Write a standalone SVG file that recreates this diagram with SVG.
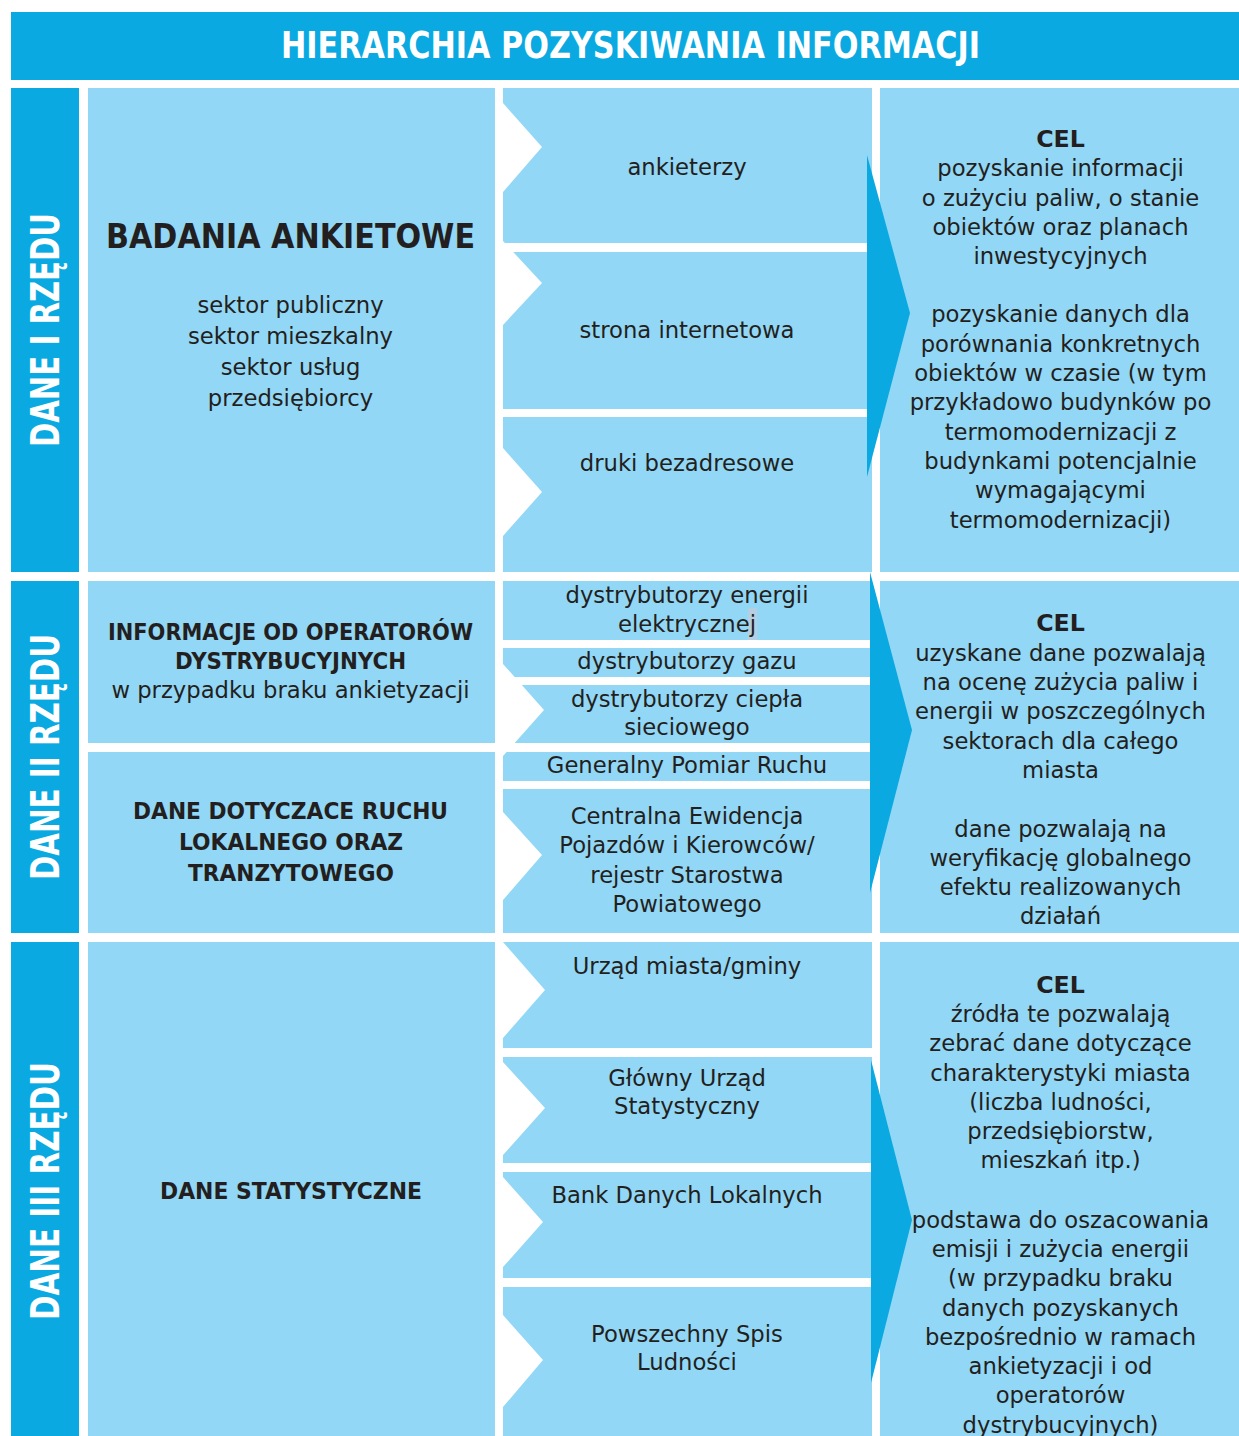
<svg xmlns="http://www.w3.org/2000/svg" width="1239" height="1436" viewBox="0 0 1239 1436">
<style>
.dark{fill:#0ba9e1}
.light{fill:#92d7f5}
.notch{fill:#ffffff}
.t{font-family:"DejaVu Sans",Verdana,sans-serif;font-size:22.7px;fill:#231f20;text-anchor:middle}
.b{font-family:"DejaVu Sans",Verdana,sans-serif;font-weight:bold;font-size:23.7px;fill:#231f20;text-anchor:middle}
.big{font-size:34.3px}
.vl{font-family:"DejaVu Sans",Verdana,sans-serif;font-weight:bold;font-size:38.4px;fill:#ffffff;text-anchor:middle}
</style>
<rect width="1239" height="1436" fill="#ffffff"/>

<g id="title">
<rect class="dark" x="11" y="12" width="1228" height="68"/>
<text x="630.5" y="58" font-family="DejaVu Sans, Verdana, sans-serif" font-weight="bold" font-size="36.5" fill="#ffffff" text-anchor="middle" textLength="699" lengthAdjust="spacingAndGlyphs">HIERARCHIA POZYSKIWANIA INFORMACJI</text>
</g>

<g id="row1-label">
<rect class="dark" x="11" y="88" width="68" height="484"/>
<text class="vl" transform="translate(59,330) rotate(-90)" x="0" y="0" textLength="234" lengthAdjust="spacingAndGlyphs">DANE I RZĘDU</text>
</g>
<g id="row2-label">
<rect class="dark" x="11" y="581" width="68" height="352"/>
<text class="vl" transform="translate(59,757) rotate(-90)" x="0" y="0" textLength="246" lengthAdjust="spacingAndGlyphs">DANE II RZĘDU</text>
</g>
<g id="row3-label">
<rect class="dark" x="11" y="942" width="68" height="494"/>
<text class="vl" transform="translate(59,1191) rotate(-90)" x="0" y="0" textLength="258" lengthAdjust="spacingAndGlyphs">DANE III RZĘDU</text>
</g>

<g id="badania">
<rect class="light" x="88" y="88" width="407" height="484"/>
<text class="b big" x="290.5" y="248" textLength="369" lengthAdjust="spacingAndGlyphs">BADANIA ANKIETOWE</text>
<text class="t" x="290.5" y="313">sektor publiczny</text>
<text class="t" x="290.5" y="344">sektor mieszkalny</text>
<text class="t" x="290.5" y="375">sektor usług</text>
<text class="t" x="290.5" y="406">przedsiębiorcy</text>
</g>

<g id="operatorzy">
<rect class="light" x="88" y="581" width="407" height="162"/>
<text class="b" x="290.5" y="640" textLength="365" lengthAdjust="spacingAndGlyphs">INFORMACJE OD OPERATORÓW</text>
<text class="b" x="290.5" y="669" textLength="231" lengthAdjust="spacingAndGlyphs">DYSTRYBUCYJNYCH</text>
<text class="t" x="290.5" y="698">w przypadku braku ankietyzacji</text>
</g>

<g id="ruch">
<rect class="light" x="88" y="752" width="407" height="181"/>
<text class="b" x="290.5" y="819" textLength="315" lengthAdjust="spacingAndGlyphs">DANE DOTYCZACE RUCHU</text>
<text class="b" x="291" y="850" textLength="224" lengthAdjust="spacingAndGlyphs">LOKALNEGO ORAZ</text>
<text class="b" x="291" y="881" textLength="206" lengthAdjust="spacingAndGlyphs">TRANZYTOWEGO</text>
</g>

<g id="statystyczne">
<rect class="light" x="88" y="942" width="407" height="494"/>
<text class="b" x="291" y="1199" textLength="262" lengthAdjust="spacingAndGlyphs">DANE STATYSTYCZNE</text>
</g>

<g id="ankieterzy">
<rect class="light" x="503" y="88" width="369" height="155"/>
<polygon class="notch" points="503,103 542,147 503,192"/>
<text class="t" x="687" y="175">ankieterzy</text>
</g>
<g id="strona">
<rect class="light" x="503" y="252" width="369" height="157"/>
<polygon class="notch" points="503,241 542,283 503,325"/>
<text class="t" x="687" y="338">strona internetowa</text>
</g>
<g id="druki">
<rect class="light" x="503" y="417" width="369" height="155"/>
<polygon class="notch" points="503,448 542,492 503,536"/>
<text class="t" x="687" y="471">druki bezadresowe</text>
</g>

<g id="energia">
<rect class="light" x="503" y="581" width="369" height="59"/>
<rect x="748" y="608" width="9" height="32" fill="#b4cfe2"/>
<text class="t" x="687" y="603">dystrybutorzy energii</text>
<text class="t" x="687" y="632">elektrycznej</text>
</g>
<g id="gaz">
<rect class="light" x="503" y="648" width="369" height="29"/>
<text class="t" x="687" y="669">dystrybutorzy gazu</text>
</g>
<g id="cieplo">
<rect class="light" x="503" y="685" width="369" height="58"/>
<text class="t" x="687" y="707">dystrybutorzy ciepła</text>
<text class="t" x="687" y="735">sieciowego</text>
</g>
<g id="gpr">
<rect class="light" x="503" y="752" width="369" height="29"/>
<text class="t" x="687" y="773">Generalny Pomiar Ruchu</text>
</g>
<polygon class="notch" points="503,664 544,710 503,756"/>
<g id="cepik">
<rect class="light" x="503" y="789" width="369" height="144"/>
<polygon class="notch" points="503,812 542,855 503,900"/>
<text class="t" x="687" y="824">Centralna Ewidencja</text>
<text class="t" x="687" y="853">Pojazdów i Kierowców/</text>
<text class="t" x="687" y="883">rejestr Starostwa</text>
<text class="t" x="687" y="912">Powiatowego</text>
</g>

<g id="urzad">
<rect class="light" x="503" y="942" width="369" height="106"/>
<polygon class="notch" points="503,942 545,990 503,1038"/>
<text class="t" x="687" y="974">Urząd miasta/gminy</text>
</g>
<g id="gus">
<rect class="light" x="503" y="1057" width="369" height="106"/>
<polygon class="notch" points="503,1062 545,1108 503,1155"/>
<text class="t" x="687" y="1086">Główny Urząd</text>
<text class="t" x="687" y="1114">Statystyczny</text>
</g>
<g id="bdl">
<rect class="light" x="503" y="1172" width="369" height="106"/>
<polygon class="notch" points="503,1177 543,1222 503,1267"/>
<text class="t" x="687" y="1203">Bank Danych Lokalnych</text>
</g>
<g id="spis">
<rect class="light" x="503" y="1287" width="369" height="149"/>
<polygon class="notch" points="503,1315 543,1360 503,1407"/>
<text class="t" x="687" y="1342">Powszechny Spis</text>
<text class="t" x="687" y="1370">Ludności</text>
</g>

<g id="cel1">
<rect class="light" x="880" y="88" width="359" height="484"/>
<text class="b" x="1060.5" y="147">CEL</text>
<text class="t" x="1060.5" y="176">pozyskanie informacji</text>
<text class="t" x="1060.5" y="206">o zużyciu paliw, o stanie</text>
<text class="t" x="1060.5" y="235">obiektów oraz planach</text>
<text class="t" x="1060.5" y="264">inwestycyjnych</text>
<text class="t" x="1060.5" y="322">pozyskanie danych dla</text>
<text class="t" x="1060.5" y="352">porównania konkretnych</text>
<text class="t" x="1060.5" y="381">obiektów w czasie (w tym</text>
<text class="t" x="1060.5" y="410">przykładowo budynków po</text>
<text class="t" x="1060.5" y="440">termomodernizacji z</text>
<text class="t" x="1060.5" y="469">budynkami potencjalnie</text>
<text class="t" x="1060.5" y="498">wymagającymi</text>
<text class="t" x="1060.5" y="528">termomodernizacji)</text>
</g>

<g id="cel2">
<rect class="light" x="880" y="581" width="359" height="352"/>
<text class="b" x="1060.5" y="631">CEL</text>
<text class="t" x="1060.5" y="661">uzyskane dane pozwalają</text>
<text class="t" x="1060.5" y="690">na ocenę zużycia paliw i</text>
<text class="t" x="1060.5" y="719">energii w poszczególnych</text>
<text class="t" x="1060.5" y="749">sektorach dla całego</text>
<text class="t" x="1060.5" y="778">miasta</text>
<text class="t" x="1060.5" y="837">dane pozwalają na</text>
<text class="t" x="1060.5" y="866">weryfikację globalnego</text>
<text class="t" x="1060.5" y="895">efektu realizowanych</text>
<text class="t" x="1060.5" y="924">działań</text>
</g>

<g id="cel3">
<rect class="light" x="880" y="942" width="359" height="494"/>
<text class="b" x="1060.5" y="993">CEL</text>
<text class="t" x="1060.5" y="1022">źródła te pozwalają</text>
<text class="t" x="1060.5" y="1051">zebrać dane dotyczące</text>
<text class="t" x="1060.5" y="1081">charakterystyki miasta</text>
<text class="t" x="1060.5" y="1110">(liczba ludności,</text>
<text class="t" x="1060.5" y="1139">przedsiębiorstw,</text>
<text class="t" x="1060.5" y="1168">mieszkań itp.)</text>
<text class="t" x="1060.5" y="1228">podstawa do oszacowania</text>
<text class="t" x="1060.5" y="1257">emisji i zużycia energii</text>
<text class="t" x="1060.5" y="1286">(w przypadku braku</text>
<text class="t" x="1060.5" y="1316">danych pozyskanych</text>
<text class="t" x="1060.5" y="1345">bezpośrednio w ramach</text>
<text class="t" x="1060.5" y="1374">ankietyzacji i od</text>
<text class="t" x="1060.5" y="1403">operatorów</text>
<text class="t" x="1060.5" y="1433">dystrybucyjnych)</text>
</g>

<g id="connectors">
<polygon class="dark" points="867,155 910,313 867,477"/>
<polygon class="dark" points="870,572 912,730 870,893"/>
<polygon class="dark" points="871,1060 912,1220 871,1383"/>
</g>
</svg>
